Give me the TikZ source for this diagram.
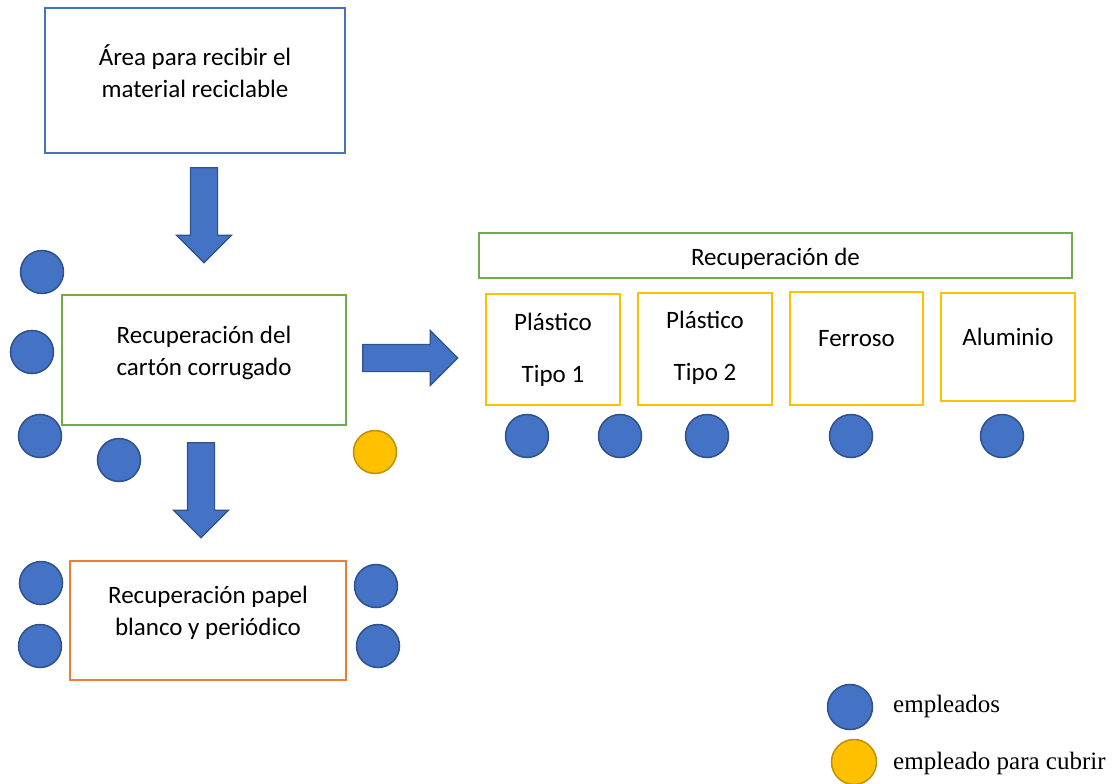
\documentclass[tikz,border=0pt]{standalone}
\usepackage{fontspec}
\setmainfont{Carlito}
\newfontfamily\legendfont{Liberation Serif}
\usetikzlibrary{positioning,shapes.arrows}
\definecolor{empBlue}{HTML}{4472C4}
\definecolor{empEdge}{HTML}{2F528F}
\definecolor{covYellow}{HTML}{FFC000}
\definecolor{covEdge}{HTML}{BF9000}
\definecolor{boxGreen}{HTML}{70AD47}
\definecolor{boxOrange}{HTML}{ED7D31}
\begin{document}
\begin{tikzpicture}[x=1pt,y=-1pt,font=\fontsize{25}{32}\selectfont,
  box/.style={draw,line width=1.5pt,inner sep=0pt},
  txt/.style={align=center,inner sep=0pt},
  emp/.style={circle,draw=empEdge,fill=empBlue,line width=1.5pt,minimum size=43pt,inner sep=0pt},
  cov/.style={emp,draw=covEdge,fill=covYellow},
  barrow/.style={single arrow,draw=empEdge,fill=empBlue,line width=1.2pt,inner sep=13pt,
    minimum height=95pt,single arrow head extend=14pt},
  leg/.style={anchor=west,inner sep=0pt,font=\legendfont\fontsize{25}{28}\selectfont}]
  \useasboundingbox (0,0) rectangle (1114,784);
  % main flow
  \node[box,draw=empBlue,minimum width=300pt,minimum height=145pt] (rec) at (195,80.5) {};
  \node[txt] (recT) at ([yshift=9pt]rec.center) {Área para recibir el\\material reciclable};
  \node[box,draw=boxGreen,minimum width=284pt,minimum height=130pt] (car) at (204,360) {};
  \node[txt] (carT) at ([yshift=7pt]car.center) {Recuperación del\\cartón corrugado};
  \node[box,draw=boxOrange,minimum width=276pt,minimum height=119pt] (pap) at (208,620.5) {};
  \node[txt] (papT) at ([yshift=8pt]pap.center) {Recuperación papel\\blanco y periódico};
  \node[barrow,rotate=-90] (a1) at (204,208.5) {};
  \node[barrow,rotate=-90] (a2) at (201,483.5) {};
  \node[barrow] (a3) at (403.5,358) {};
  % recovery of other materials
  \node[box,draw=boxGreen,minimum width=593pt,minimum height=45pt] (otr) at (775.5,255.5) {};
  \node[txt] (otrT) at ([yshift=-3pt]otr.center) {Recuperación de};
  \node[box,draw=covYellow,minimum width=134pt,minimum height=111pt] (pl1) at (553,349.5) {};
  \node[txt] (pl1T) at ([yshift=0pt]pl1.center) {Plástico\\[20pt]Tipo 1};
  \node[box,draw=covYellow,minimum width=134pt,minimum height=112pt] (pl2) at (705,349) {};
  \node[txt] (pl2T) at ([yshift=1pt]pl2.center) {Plástico\\[20pt]Tipo 2};
  \node[box,draw=covYellow,minimum width=133pt,minimum height=113pt] (fer) at (856.5,348.5) {};
  \node[txt] (ferT) at ([yshift=10pt]fer.center) {Ferroso};
  \node[box,draw=covYellow,minimum width=134pt,minimum height=108pt] (alu) at (1008,347) {};
  \node[txt] (aluT) at ([yshift=10pt]alu.center) {Aluminio};
  % employees
  \node[emp] (e1) at (42,272) {};
  \node[emp] (e2) at (32,352) {};
  \node[emp] (e3) at (40,436) {};
  \node[emp] (e4) at (119,460) {};
  \node[cov] (c1) at (375,452) {};
  \node[emp] (e5) at (41,583) {};
  \node[emp] (e6) at (40,646) {};
  \node[emp] (e7) at (376,586) {};
  \node[emp] (e8) at (378,646) {};
  \node[emp] (e9) at (527,436) {};
  \node[emp] (e10) at (620,436) {};
  \node[emp] (e11) at (707,436) {};
  \node[emp] (e12) at (851,436) {};
  \node[emp] (e13) at (1002,436) {};
  % legend
  \node[emp,minimum size=45pt] (le) at (850,707) {};
  \node[cov,minimum size=45pt] (lc) at (854,762) {};
  \node[leg] (lt1) at (893,706) {empleados};
  \node[leg] (lt2) at (893,763) {empleado para cubrir};
\end{tikzpicture}
\end{document}
